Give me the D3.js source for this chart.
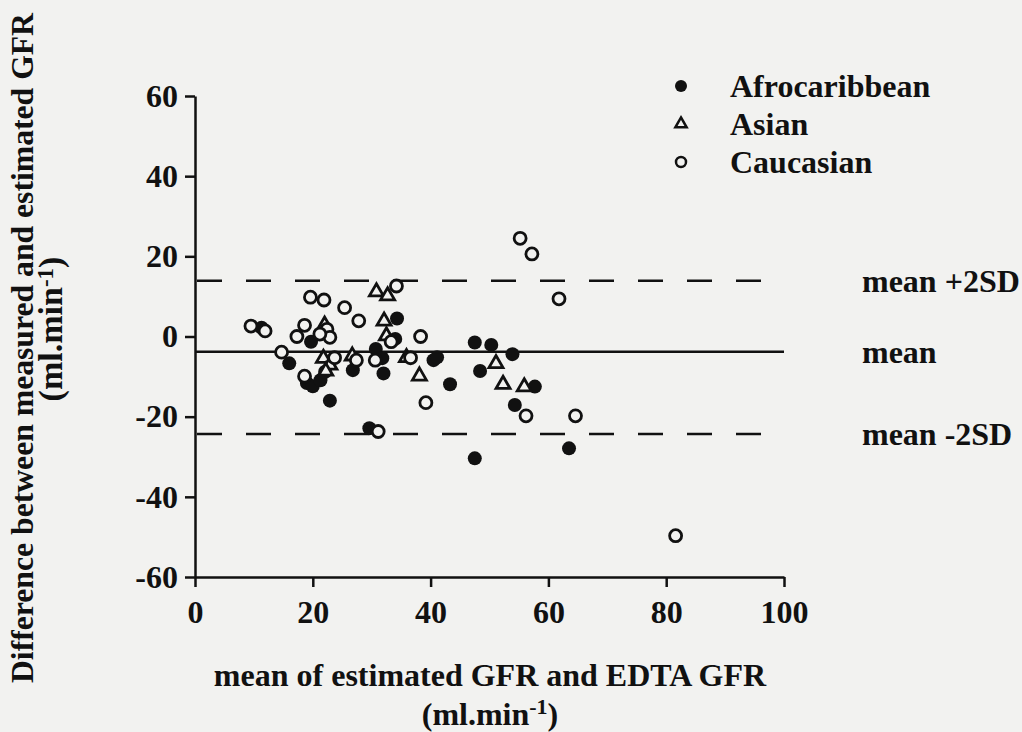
<!DOCTYPE html>
<html>
<head>
<meta charset="utf-8">
<script src="https://cdn.jsdelivr.net/npm/d3@7"></script>
<style>
  body { margin: 0; background: #f2f2f0; }
  svg text { font-family: "Liberation Serif", "Times New Roman", serif; font-weight: bold; fill: #111; }
</style>
</head>
<body>
<svg id="chart" width="1022" height="732"></svg>
<script>
// points: [mean GFR, difference]
var afrocaribbean = [
    [11.3, 2.2], [16.0, -6.7], [19.0, -11.6], [20.0, -12.4], [21.3, -10.9],
    [22.1, -8.8], [22.9, -16.0], [19.7, -1.3], [26.8, -8.4], [30.7, -3.1],
    [31.8, -5.4], [32.0, -9.2], [34.3, 4.5], [34.0, -0.6], [29.6, -22.9],
    [40.5, -5.9], [41.1, -5.2], [43.3, -11.9], [47.5, -1.5], [50.3, -2.1],
    [53.9, -4.4], [48.4, -8.6], [57.7, -12.5], [54.3, -17.1], [47.5, -30.4],
    [63.5, -27.9]
];
var asian = [
    [22.0, 3.1], [21.8, -5.2], [22.9, -6.9], [22.2, -8.4], [26.7, -4.6],
    [30.8, 11.4], [32.7, 10.4], [32.1, 4.1], [32.5, 0.4], [35.9, -5.0],
    [38.1, -9.6], [51.1, -6.5], [52.3, -11.7], [55.9, -12.3]
];
var caucasian = [
    [9.5, 2.6], [11.9, 1.4], [14.7, -3.9], [18.6, -9.9], [19.6, 9.8],
    [21.9, 9.1], [18.6, 2.8], [17.3, 0.0], [22.4, 1.8], [22.9, -0.2],
    [21.2, 0.6], [23.7, -5.3], [25.4, 7.2], [27.8, 3.9], [27.4, -5.9],
    [30.6, -5.9], [34.2, 12.6], [33.3, -1.3], [38.3, 0.0], [36.6, -5.3],
    [39.2, -16.5], [31.1, -23.7], [55.2, 24.5], [57.2, 20.6], [61.8, 9.4],
    [56.2, -19.8], [64.6, -19.8], [81.6, -49.7]
];
var xTicks = [0, 20, 40, 60, 80, 100];
var yTicks = [-60, -40, -20, 0, 20, 40, 60];
var refLines = [
    {value: 13.9, label: "mean +2SD", dashed: true},
    {value: -3.8, label: "mean", dashed: false},
    {value: -24.3, label: "mean -2SD", dashed: true}
];
var groups = ["Afrocaribbean", "Asian", "Caucasian"];

var bg = "#f2f2f0";
var ink = "#111";
var svg = d3.select("#chart");

var x = d3.scaleLinear().domain([0, 100]).range([195, 784]);
var y = d3.scaleLinear().domain([-60, 60]).range([577, 96]);

// axes (plain hyphen for negatives, like the original)
var xAxis = d3.axisBottom(x).tickValues(xTicks).tickSize(10).tickSizeOuter(0).tickPadding(13)
    .tickFormat(d => String(d));
var yAxis = d3.axisLeft(y).tickValues(yTicks).tickSize(10).tickSizeOuter(0).tickPadding(7)
    .tickFormat(d => String(d));

var gx = svg.append("g").attr("transform", "translate(0," + y(-60) + ")").call(xAxis);
var gy = svg.append("g").attr("transform", "translate(" + x(0) + ",0)").call(yAxis);
[gx, gy].forEach(function (g) {
    g.selectAll("path, line").attr("stroke", ink).attr("stroke-width", 2.5);
    g.selectAll("text").attr("font-size", 32).attr("fill", ink)
        .attr("font-family", "'Liberation Serif', serif").attr("font-weight", "bold");
});

// mean and limits of agreement
svg.selectAll(".ref")
    .data(refLines)
    .enter()
    .append("line")
    .attr("x1", x(0))
    .attr("x2", x(100))
    .attr("y1", d => y(d.value))
    .attr("y2", d => y(d.value))
    .attr("stroke", ink)
    .attr("stroke-width", 2.5)
    .attr("stroke-dasharray", d => d.dashed ? "25,24" : null)
    .attr("stroke-dashoffset", -2);

svg.selectAll(".refLabel")
    .data(refLines)
    .enter()
    .append("text")
    .attr("x", 862)
    .attr("y", d => y(d.value) + 11)
    .attr("font-size", 32)
    .text(d => d.label);

// markers
var tri = d3.symbol().type(d3.symbolTriangle).size(85);

svg.append("g").selectAll("circle")
    .data(afrocaribbean)
    .enter()
    .append("circle")
    .attr("cx", d => x(d[0]))
    .attr("cy", d => y(d[1]))
    .attr("r", 7)
    .attr("fill", ink);

svg.append("g").selectAll("path")
    .data(asian)
    .enter()
    .append("path")
    .attr("d", tri)
    .attr("transform", d => "translate(" + x(d[0]) + "," + (y(d[1]) + 1) + ")")
    .attr("fill", bg)
    .attr("stroke", ink)
    .attr("stroke-width", 2.8);

svg.append("g").selectAll("circle")
    .data(caucasian)
    .enter()
    .append("circle")
    .attr("cx", d => x(d[0]))
    .attr("cy", d => y(d[1]))
    .attr("r", 6)
    .attr("fill", bg)
    .attr("stroke", ink)
    .attr("stroke-width", 2.8);

// legend
var legend = svg.append("g");
var legendY = [86, 124, 162];
legend.append("circle").attr("cx", 681).attr("cy", legendY[0]).attr("r", 6).attr("fill", ink);
legend.append("path").attr("d", d3.symbol().type(d3.symbolTriangle).size(55))
    .attr("transform", "translate(681," + legendY[1] + ")")
    .attr("fill", bg).attr("stroke", ink).attr("stroke-width", 2.5);
legend.append("circle").attr("cx", 681).attr("cy", legendY[2]).attr("r", 5)
    .attr("fill", bg).attr("stroke", ink).attr("stroke-width", 2.5);
legend.selectAll("text")
    .data(groups)
    .enter()
    .append("text")
    .attr("x", 730)
    .attr("y", (d, i) => legendY[i] + 11)
    .attr("font-size", 32)
    .text(d => d);

// axis titles
svg.append("text")
    .attr("x", 490)
    .attr("y", 686)
    .attr("text-anchor", "middle")
    .attr("font-size", 32)
    .text("mean of estimated GFR and EDTA GFR");
var xUnit = svg.append("text")
    .attr("x", 490)
    .attr("y", 725)
    .attr("text-anchor", "middle")
    .attr("font-size", 32);
xUnit.append("tspan").text("(ml.min");
xUnit.append("tspan").attr("font-size", 22).attr("dy", -11).text("-1");
xUnit.append("tspan").attr("dy", 11).text(")");

svg.append("text")
    .attr("transform", "translate(33,348) rotate(-90)")
    .attr("text-anchor", "middle")
    .attr("font-size", 31)
    .attr("textLength", 670)
    .attr("lengthAdjust", "spacingAndGlyphs")
    .text("Difference between measured and estimated GFR");
var yUnit = svg.append("text")
    .attr("transform", "translate(62,329) rotate(-90)")
    .attr("text-anchor", "middle")
    .attr("font-size", 34);
yUnit.append("tspan").text("(ml.min");
yUnit.append("tspan").attr("font-size", 23).attr("dy", -9).text("-1");
yUnit.append("tspan").attr("dy", 9).text(")");
</script>
</body>
</html>
